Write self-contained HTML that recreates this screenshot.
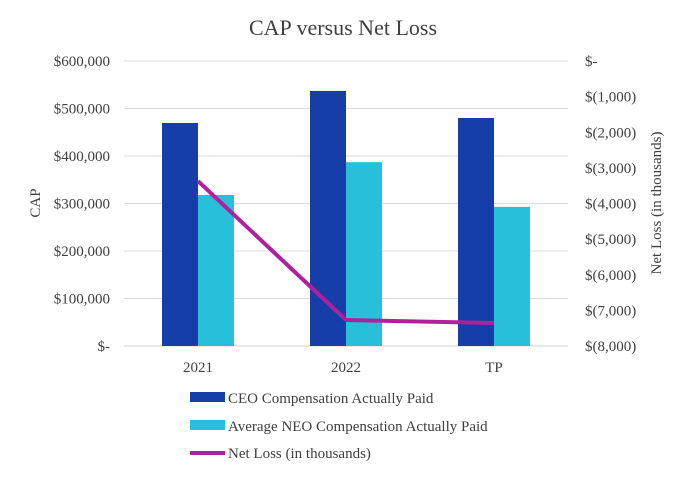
<!DOCTYPE html>
<html><head><meta charset="utf-8"><style>
body{margin:0;background:#fff;font-family:"Liberation Serif",serif;}
svg text{font-family:"Liberation Serif",serif;fill:#404040;}
</style></head><body>
<svg width="686" height="473">
<text x="343" y="35" font-size="22" text-anchor="middle">CAP versus Net Loss</text>
<g id="grid"></g><g id="bars"></g><g id="axes"></g><g id="line"></g>
<text transform="translate(40,203) rotate(-90)" font-size="15" text-anchor="middle">CAP</text>
<text transform="translate(661,203) rotate(-90)" font-size="15" text-anchor="middle">Net Loss (in thousands)</text>
<g>
<rect x="190" y="392" width="35" height="10" fill="#153ea8"/>
<text x="228" y="403" font-size="15">CEO Compensation Actually Paid</text>
<rect x="190" y="420" width="35" height="10" fill="#27bfd9"/>
<text x="228" y="431" font-size="15">Average NEO Compensation Actually Paid</text>
<line x1="190" y1="453" x2="225" y2="453" stroke="#b0209e" stroke-width="4"/>
<text x="228" y="458" font-size="15">Net Loss (in thousands)</text>
</g>
</svg>
<script>
const categories=["2021","2022","TP"];
const ceoValues=[469500,537000,480000];
const neoValues=[318000,387000,293000];
const netLoss=[-3370,-7270,-7354];
const leftTicks=[0,100000,200000,300000,400000,500000,600000];
const leftTickLabels=["$-","$100,000","$200,000","$300,000","$400,000","$500,000","$600,000"];
const rightTicks=[0,-1000,-2000,-3000,-4000,-5000,-6000,-7000,-8000];
const rightTickLabels=["$-","$(1,000)","$(2,000)","$(3,000)","$(4,000)","$(5,000)","$(6,000)","$(7,000)","$(8,000)"];
const NS="http://www.w3.org/2000/svg";
const top_=61,bot=346,left=124,right=568;
const yL=v=>bot-(v/600000)*(bot-top_);
const yR=v=>top_+(-v/8000)*(bot-top_);
const cw=(right-left)/categories.length;
const xC=i=>left+cw*(i+0.5);
function mk(t,a,p){const e=document.createElementNS(NS,t);for(const k in a)e.setAttribute(k,a[k]);p.appendChild(e);return e;}
const grid=document.getElementById('grid'),bars=document.getElementById('bars'),axes=document.getElementById('axes'),line=document.getElementById('line');
leftTicks.forEach((v,i)=>{
 const g=mk('line',{x1:left,x2:right,y1:yL(v),y2:yL(v),stroke:v===0?'#d0d0d0':'#dcdcdc','stroke-width':1},grid);
 
 
 const t=mk('text',{x:110,y:yL(v)+5,'font-size':15,'text-anchor':'end'},axes);
 t.textContent=leftTickLabels[i];
 
 
});
rightTicks.forEach((v,i)=>{
 const t=mk('text',{x:585,y:yR(v)+5,'font-size':15},axes);
 t.textContent=rightTickLabels[i];
 
 
});
const bw=36;
categories.forEach((c,i)=>{
 const x=xC(i);
 const b1=mk('rect',{x:x-bw,y:yL(ceoValues[i]),width:bw,height:bot-yL(ceoValues[i]),fill:'#153ea8'},bars);
 
 
 const b2=mk('rect',{x:x,y:yL(neoValues[i]),width:bw,height:bot-yL(neoValues[i]),fill:'#27bfd9'},bars);
 
 
 const t=mk('text',{x:x,y:372,'font-size':15,'text-anchor':'middle'},axes);
 t.textContent=c;
 
 
});
const pl=mk('polyline',{points:netLoss.map((v,i)=>xC(i)+','+yR(v)).join(' '),fill:'none',stroke:'#b0209e','stroke-width':4,'stroke-linejoin':'round'},line);


</script>
</body></html>
